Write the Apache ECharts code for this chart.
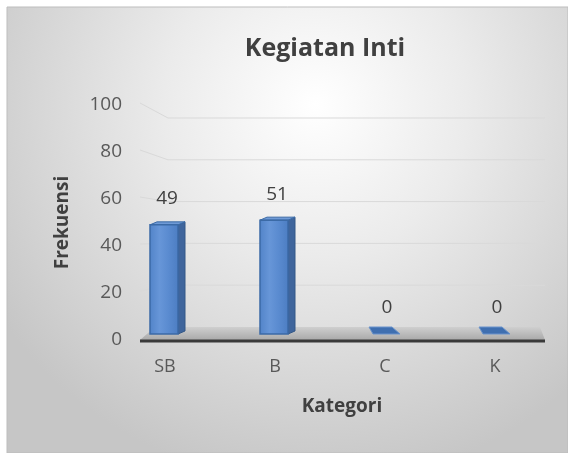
<!DOCTYPE html>
<html>
<head>
<meta charset="utf-8">
<script src="https://cdn.jsdelivr.net/npm/echarts@6/dist/echarts.min.js"></script>
<style>
html,body{margin:0;padding:0;background:#fff;}
#chart{width:568px;height:453px;}
</style>
</head>
<body>
<div id="chart"></div>
<script>
const categories = ['SB', 'B', 'C', 'K'];
const frekuensi = [49, 51, 0, 0];
const yTicks = [0, 20, 40, 60, 80, 100];
const chartTitle = 'Kegiatan Inti';
const xName = 'Kategori';
const yName = 'Frekuensi';

const FONT = '"Open Sans", "DejaVu Sans", sans-serif';
const chart = echarts.init(document.getElementById('chart'));

function backY(api, v) {
  const y0 = api.coord([0, 0])[1];
  const yv = api.coord([0, v])[1];
  const yMax = api.coord([0, 100])[1];
  const backBottom = y0 - 13;
  const backTop = yMax + 13;
  return backBottom + (yv - y0) * (backBottom - backTop) / (y0 - yMax);
}

const option = {
  animation: false,
  backgroundColor: '#ffffff',
  graphic: [{
    type: 'rect',
    z: -100,
    shape: { x: 7, y: 7, width: 561, height: 446 },
    style: {
      fill: new echarts.graphic.RadialGradient(0.55, 0.22, 0.85, [
        { offset: 0, color: '#ffffff' },
        { offset: 0.4, color: '#ebebeb' },
        { offset: 1, color: '#c6c6c6' }
      ]),
      stroke: '#bdbdbd',
      lineWidth: 1
    }
  }],
  title: {
    text: chartTitle,
    left: 320,
    top: 31,
    textAlign: 'center',
    textStyle: { fontFamily: FONT, fontSize: 25, fontWeight: 'bold', color: '#404040' }
  },
  grid: { left: 110, right: 18, top: 105, bottom: 113 },
  xAxis: {
    type: 'category',
    data: categories,
    axisLine: { show: false },
    axisTick: { show: false },
    axisLabel: { margin: 18, fontFamily: FONT, fontSize: 18, color: '#595959' },
    name: xName,
    nameLocation: 'middle',
    nameGap: 57,
    nameTextStyle: { fontFamily: FONT, fontSize: 19, fontWeight: 'bold', color: '#404040', padding: [0, 0, 0, 24] }
  },
  yAxis: {
    type: 'value',
    min: 0,
    max: 100,
    interval: 20,
    axisLine: { show: false },
    axisTick: { show: false },
    splitLine: { show: false },
    axisLabel: { margin: -12, fontFamily: FONT, fontSize: 19, color: '#595959' },
    name: yName,
    nameLocation: 'middle',
    nameGap: 38,
    nameTextStyle: { fontFamily: FONT, fontSize: 19, fontWeight: 'bold', color: '#404040' }
  },
  series: [
    {
      type: 'custom',
      name: 'walls',
      z: 1,
      silent: true,
      data: yTicks.slice(1).map(v => [0, v]),
      encode: { x: 0, y: 1 },
      renderItem: function (params, api) {
        const cs = params.coordSys;
        const v = api.value(1);
        const yf = api.coord([0, v])[1] - 2;
        const yb = backY(api, v);
        const x0 = cs.x + 30;
        const x1 = cs.x + 58;
        const x2 = cs.x + cs.width - 5;
        return {
          type: 'polyline',
          shape: { points: [[x0, yf], [x1, yb], [x2, yb]] },
          style: { stroke: '#d9d9d9', lineWidth: 1, fill: null }
        };
      }
    },
    {
      type: 'custom',
      name: 'floor',
      z: 2,
      silent: true,
      data: [[0, 0]],
      encode: { x: 0, y: 1 },
      renderItem: function (params, api) {
        const cs = params.coordSys;
        const y0 = api.coord([0, 0])[1];
        const yb = backY(api, 0);
        const xl = cs.x + 30, xr = cs.x + cs.width - 5;
        return {
          type: 'group',
          children: [
            {
              type: 'polygon',
              shape: { points: [[xl, y0], [xl + 15, yb], [xr - 5, yb], [xr, y0]] },
              style: {
                fill: new echarts.graphic.LinearGradient(0, 0, 0, 1, [
                  { offset: 0, color: '#cfcfcf' },
                  { offset: 1, color: '#a9a9a9' }
                ])
              }
            },
            {
              type: 'line',
              shape: { x1: xl, y1: y0 + 1, x2: xr, y2: y0 + 1 },
              style: { stroke: '#3a3a3a', lineWidth: 3 }
            }
          ]
        };
      }
    },
    {
      type: 'custom',
      name: 'Frekuensi',
      z: 3,
      data: frekuensi.map((v, i) => [i, v]),
      encode: { x: 0, y: 1 },
      renderItem: function (params, api) {
        const idx = api.value(0);
        const v = api.value(1);
        const top = api.coord([idx, v]);
        const base = api.coord([idx, 0]);
        const cx = top[0];
        const bottom = base[1] - 6;
        const children = [];
        if (v > 0) {
          const l = cx - 15, r = cx + 13, dx = 7, dy = 3;
          const t = top[1];
          children.push({
            type: 'polygon',
            shape: { points: [[r, t], [r + dx, t - dy], [r + dx, bottom - dy], [r, bottom]] },
            style: { fill: '#3f659c', stroke: '#345887', lineWidth: 1 }
          });
          children.push({
            type: 'polygon',
            shape: { points: [[l, t], [l + dx, t - dy], [r + dx, t - dy], [r, t]] },
            style: { fill: '#6f9ad6', stroke: '#3b6aa6', lineWidth: 1 }
          });
          children.push({
            type: 'rect',
            shape: { x: l, y: t, width: r - l, height: bottom - t },
            style: {
              fill: new echarts.graphic.LinearGradient(0, 0, 1, 0, [
                { offset: 0, color: '#5183c8' },
                { offset: 0.35, color: '#6796d8' },
                { offset: 0.65, color: '#5a8bd0' },
                { offset: 1, color: '#4c7dc2' }
              ]),
              stroke: '#3b6aa6',
              lineWidth: 1.5
            }
          });
        } else {
          children.push({
            type: 'polygon',
            shape: { points: [[cx - 16, bottom - 7], [cx + 7, bottom - 7], [cx + 15, bottom], [cx - 12, bottom]] },
            style: { fill: '#3f6fb0', stroke: '#6a93cc', lineWidth: 1 }
          });
        }
        const labelY = (v > 0 ? top[1] : bottom) - 26;
        children.push({
          type: 'text',
          style: {
            text: String(v),
            x: cx + 2,
            y: labelY,
            align: 'center',
            verticalAlign: 'middle',
            fontFamily: FONT,
            fontSize: 19,
            fill: '#404040'
          }
        });
        return { type: 'group', children: children };
      }
    }
  ]
};
chart.setOption(option);
</script>
</body>
</html>
